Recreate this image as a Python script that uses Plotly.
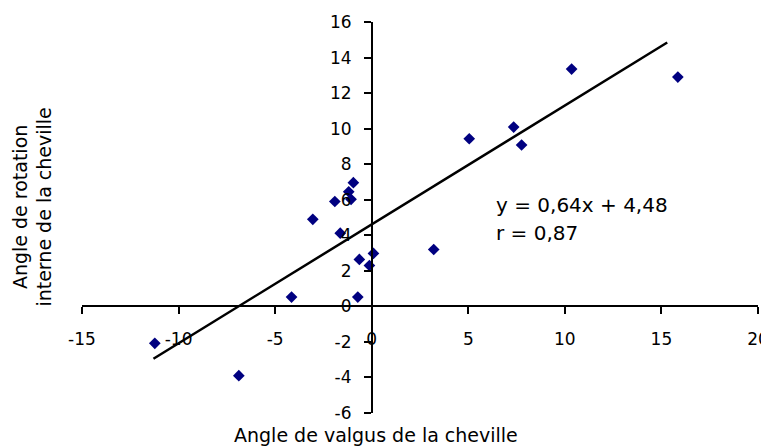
import plotly.graph_objects as go

# Data
valgus = [-11.23, -6.88, -4.15, -3.05, -1.91, -1.63, -1.19, -1.07, -0.95, -0.64, -0.72,
          -0.12, 0.09, 3.21, 5.05, 7.35, 7.76, 10.35, 15.85]
rotation = [-2.08, -3.90, 0.52, 4.90, 5.90, 4.12, 6.45, 6.02, 6.96, 2.64, 0.52,
            2.30, 2.98, 3.20, 9.43, 10.09, 9.08, 13.35, 12.90]
trend_x = [-11.3, 15.3]
trend_y = [-2.95, 14.85]
x_ticks = [-15, -10, -5, 0, 5, 10, 15, 20]
y_ticks = [-6, -4, -2, 0, 2, 4, 6, 8, 10, 12, 14, 16]
x_tick_labels = ["-15", "-10", "-5", "0", "5", "10", "15", "20"]
y_tick_labels = ["-6", "-4", "-2", "0", "2", "4", "6", "8", "10", "12", "14", "16"]
equation_text = "y = 0,64x + 4,48"
r_text = "r = 0,87"
x_title = "Angle de valgus de la cheville"
y_title = "Angle de rotation<br>interne de la cheville"

xmin, xmax = x_ticks[0], x_ticks[-1]
ymin, ymax = y_ticks[0], y_ticks[-1]

FONT = "DejaVu Sans"

fig = go.Figure()
fig.add_trace(go.Scatter(
    x=valgus, y=rotation, mode="markers",
    marker=dict(symbol="diamond", size=9, color="#000080"),
    showlegend=False, hoverinfo="skip"))
fig.add_trace(go.Scatter(
    x=trend_x, y=trend_y, mode="lines",
    line=dict(color="black", width=2.5),
    showlegend=False, hoverinfo="skip"))

axis_common = dict(showgrid=False, zeroline=False, showline=True, linecolor="black",
                   linewidth=1.5, ticks="outside", tickcolor="black", ticklen=7,
                   tickwidth=1.5, automargin=False,
                   tickfont=dict(family=FONT, size=17, color="black"))

# the page body offsets the figure by 8px; plot area sized to match the reference
fig.update_layout(
    width=769, height=447,
    margin=dict(l=74, r=19, t=14, b=42),
    paper_bgcolor="white", plot_bgcolor="white",
    xaxis=dict(range=[xmin, xmax], tickvals=x_ticks, ticktext=x_tick_labels,
               anchor="free", position=(0 - ymin) / (ymax - ymin),
               ticklabelstandoff=10, **axis_common),
    yaxis=dict(range=[ymin, ymax], tickvals=y_ticks, ticktext=y_tick_labels,
               anchor="free", position=(0 - xmin) / (xmax - xmin),
               ticklabelstandoff=9, **axis_common),
    annotations=[
        dict(text=x_title, xref="paper", yref="paper", x=0.435, y=-0.056,
             showarrow=False, font=dict(family=FONT, size=19, color="black"),
             xanchor="center", yanchor="middle"),
        dict(text=y_title, xref="paper", yref="paper", x=-0.073, y=0.527,
             showarrow=False, textangle=-90,
             font=dict(family=FONT, size=19, color="black"),
             xanchor="center", yanchor="middle"),
        dict(text=equation_text, xref="x", yref="y", x=6.35, y=5.72,
             showarrow=False, font=dict(family=FONT, size=20, color="black"),
             xanchor="left", yanchor="middle"),
        dict(text=r_text, xref="x", yref="y", x=6.35, y=4.12,
             showarrow=False, font=dict(family=FONT, size=20, color="black"),
             xanchor="left", yanchor="middle"),
    ],
)

fig.write_html("out.html")
